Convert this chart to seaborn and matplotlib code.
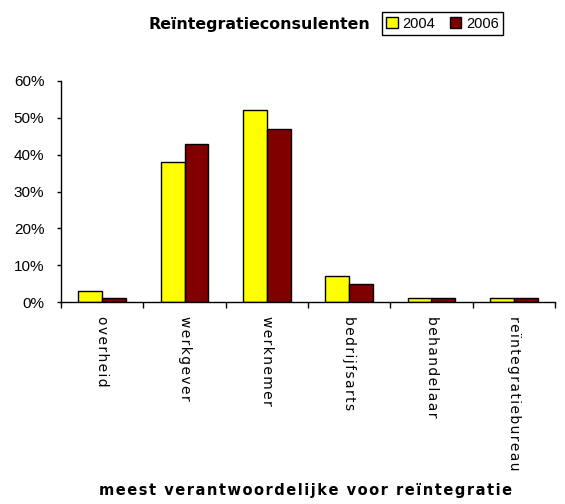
import matplotlib
matplotlib.use("Agg")
import matplotlib.pyplot as plt
import seaborn as sns
import pandas as pd
import numpy as np
from matplotlib.ticker import PercentFormatter, FixedLocator

categories = ["overheid", "werkgever", "werknemer", "bedrijfsarts", "behandelaar", "reïntegratiebureau"]
years = ["2004", "2006"]
values_2004 = [3, 38, 52, 7, 1, 1]
values_2006 = [1, 43, 47, 5, 1, 1]
colors = ["#FFFF00", "#800000"]

title = "Reïntegratieconsulenten"
xlabel = "meest verantwoordelijke voor reïntegratie"

df = pd.DataFrame({
    "categorie": categories * 2,
    "jaar": [years[0]] * len(categories) + [years[1]] * len(categories),
    "aandeel": values_2004 + values_2006,
})


def spaced(text):
    """Open up the letter spacing with hair spaces between characters."""
    return "\u200a \u200a".join("\u200a".join(word) for word in text.split(" "))


sns.set_style("white")
plt.rcParams["font.family"] = ["Liberation Sans", "DejaVu Sans"]
plt.rcParams["text.color"] = "black"
plt.rcParams["xtick.color"] = "black"
plt.rcParams["ytick.color"] = "black"

wide = ["DejaVu Sans"]

fig = plt.figure(figsize=(5.65, 5.04), dpi=100)
ax = fig.add_axes([61 / 565, 1 - 302 / 504, 494 / 565, 221 / 504])

sns.barplot(data=df, x="categorie", y="aandeel", hue="jaar", palette=colors,
            edgecolor="black", linewidth=1.0, width=0.58, ax=ax, legend=False,
            saturation=1)

ax.set_xlim(-0.5, len(categories) - 0.5)
ax.set_ylim(0, 60)
ax.set_yticks(np.arange(0, 61, 10))
ax.yaxis.set_major_formatter(PercentFormatter(decimals=0))
ax.tick_params(axis="y", direction="out", length=3, width=1, color="black",
               labelsize=11, pad=9, left=True, labelcolor="black")

# category labels in the centre, tick marks on the boundaries
ax.set_xticks(range(len(categories)))
ax.set_xticklabels([spaced(c) for c in categories], rotation=-90, fontsize=10,
                   va="top", ha="center", family=wide)
ax.tick_params(axis="x", which="major", length=0, pad=10, labelcolor="black")
ax.xaxis.set_minor_locator(FixedLocator(np.arange(-0.5, len(categories), 1)))
ax.tick_params(axis="x", which="minor", direction="out", length=4, width=1, color="black", bottom=True)

for side in ["top", "right"]:
    ax.spines[side].set_visible(False)
for side in ["left", "bottom"]:
    ax.spines[side].set_color("black")
    ax.spines[side].set_linewidth(1)

ax.set_ylabel("")
ax.set_xlabel("")

fig.text(306 / 565, 1 - 490 / 504, spaced(xlabel),
         ha="center", va="center", fontsize=10.5, fontweight="bold", family=wide)
fig.text(259 / 565, 1 - 25 / 504, title,
         ha="center", va="center", fontsize=11.4, fontweight="bold", family=wide)

handles = [plt.Rectangle((0, 0), 1, 1, facecolor=c, edgecolor="black", linewidth=1) for c in colors]
fig.legend(handles, years, loc="center", bbox_to_anchor=(442.5 / 565, 1 - 23.5 / 504),
           ncol=2, frameon=True, fancybox=False, edgecolor="black", fontsize=10.5,
           handlelength=0.8, handleheight=0.8, handletextpad=0.3, columnspacing=1.0,
           borderpad=0.3, framealpha=1)

fig.savefig("out.png", dpi=100)
